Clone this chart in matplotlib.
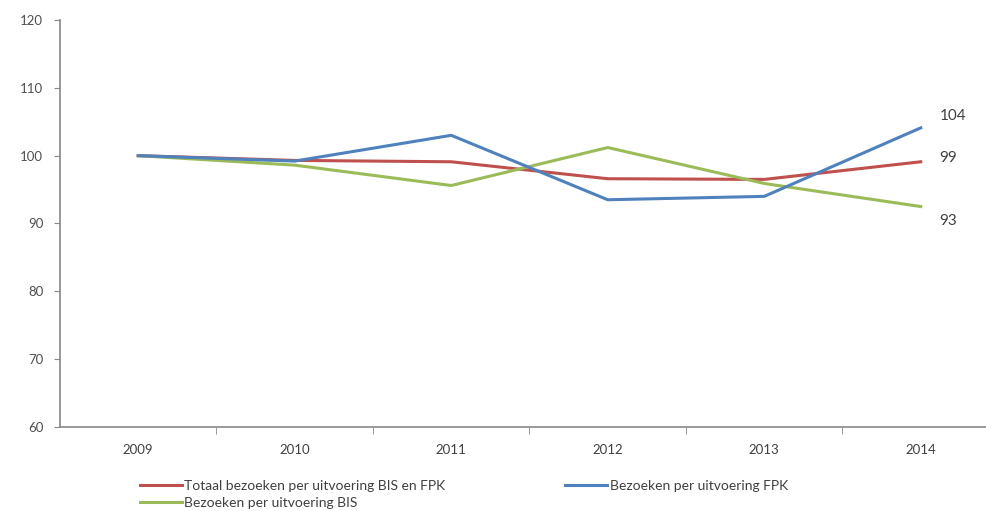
import matplotlib
matplotlib.use("Agg")
from matplotlib import pyplot as plt

years = ["2009", "2010", "2011", "2012", "2013", "2014"]
totaal = [100, 99.3, 99.1, 96.6, 96.5, 99.1]
fpk = [100, 99.2, 103.0, 93.5, 94.0, 104.1]
bis = [100, 98.6, 95.6, 101.2, 95.9, 92.5]
end_labels = ["104", "99", "93"]
end_label_y = [105.8, 99.6, 90.4]

plt.rcParams['font.family'] = ['Lato', 'DejaVu Sans']

fig = plt.figure(figsize=(9.87, 5.11), dpi=100)
ax = fig.add_axes([60 / 987, 1 - 427 / 511, 939 / 987, 407 / 511])

x = list(range(len(years)))
ax.plot(x, totaal, color="#C0504D", lw=2.2, label="Totaal bezoeken per uitvoering BIS en FPK")
ax.plot(x, bis, color="#9BBB59", lw=2.2, label="Bezoeken per uitvoering BIS")
ax.plot(x, fpk, color="#4F81BD", lw=2.2, label="Bezoeken per uitvoering FPK")

for txt, yy in zip(end_labels, end_label_y):
    ax.text(5.12, yy, txt, fontsize=11, color="#404040", va="center", ha="left")

ax.set_xlim(-0.5, 5.5)
ax.set_ylim(60, 120)
ax.set_yticks(range(60, 121, 10))
ax.set_xticks(x)
ax.set_xticklabels(years)
ax.set_xticks([i + 0.5 for i in range(len(years) - 1)], minor=True)
ax.tick_params(axis="x", which="major", length=0, pad=12, labelsize=9.5, labelcolor="#404040")
ax.tick_params(axis="x", which="minor", length=5, color="#888888", direction="out")
ax.tick_params(axis="y", length=4, color="#888888", labelsize=9.5, labelcolor="#505050", pad=8)

for s in ["top", "right"]:
    ax.spines[s].set_visible(False)
for s in ["left", "bottom"]:
    ax.spines[s].set_color("#888888")
    ax.spines[s].set_linewidth(1.2)

fig.legend(loc="upper left", bbox_to_anchor=(140 / 987, 1 - 480 / 511), ncol=2,
           frameon=False, fontsize=10, handlelength=3.0, handletextpad=0.2,
           columnspacing=8.6, labelspacing=0.35, borderaxespad=0, borderpad=0,
           labelcolor="#404040")

fig.savefig("out.png", dpi=100)
